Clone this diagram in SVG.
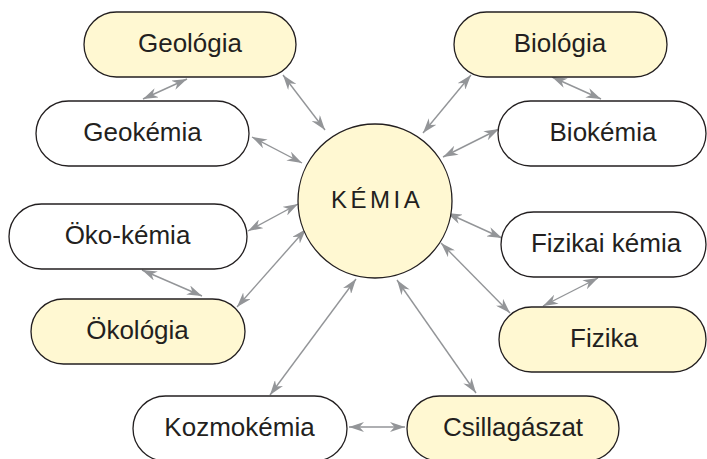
<svg xmlns="http://www.w3.org/2000/svg" width="707" height="459" viewBox="0 0 707 459">
<style>
.n rect, .n circle { stroke:#231f20; stroke-width:1.3; }
.y { fill:#fff8d2; }
.w { fill:#ffffff; }
text { font-family:"Liberation Sans", Arial, Helvetica, sans-serif; font-size:26px; fill:#231f20; text-anchor:middle; }
text.big { font-size:24px; letter-spacing:3.5px; text-anchor:start; }
.c line { stroke:#939598; stroke-width:1.4; marker-start:url(#ah); marker-end:url(#ah); }
</style>
<defs>
<marker id="ah" viewBox="0 0 15 10" refX="15" refY="5" markerWidth="15" markerHeight="10" markerUnits="userSpaceOnUse" orient="auto-start-reverse">
<path d="M0,0 L15,5 L0,10 L4.5,5 Z" fill="#939598"/>
</marker>
</defs>
<rect width="707" height="459" fill="#ffffff"/>
<g class="c" id="connectors">
<line x1="143" y1="99" x2="187" y2="79"/>
<line x1="283" y1="75" x2="325" y2="130"/>
<line x1="252" y1="137" x2="302" y2="163"/>
<line x1="248" y1="231" x2="298" y2="204"/>
<line x1="237" y1="307" x2="306" y2="229"/>
<line x1="142" y1="270" x2="202" y2="296"/>
<line x1="270" y1="395" x2="356" y2="279"/>
<line x1="397" y1="280" x2="476" y2="393"/>
<line x1="349" y1="427" x2="405" y2="427"/>
<line x1="441" y1="243" x2="510" y2="313"/>
<line x1="447" y1="213" x2="502" y2="238"/>
<line x1="598" y1="278" x2="543" y2="306"/>
<line x1="471" y1="75" x2="423" y2="133"/>
<line x1="499" y1="129" x2="443" y2="157"/>
<line x1="552" y1="77" x2="601" y2="99"/>
</g>
<g class="n" id="kemia"><circle class="y" cx="375" cy="201" r="77"/><text class="big" x="331" y="208">KÉMIA</text></g>
<g class="n" id="geologia"><rect class="y" x="84" y="12" width="212" height="65" rx="32.5"/><text x="190" y="51.5">Geológia</text></g>
<g class="n" id="geokemia"><rect class="w" x="36" y="101" width="213" height="65" rx="32.5"/><text x="142.5" y="140.5">Geokémia</text></g>
<g class="n" id="okokemia"><rect class="w" x="9" y="204" width="238" height="65" rx="32.5"/><text x="127.5" y="243.5">Öko-kémia</text></g>
<g class="n" id="okologia"><rect class="y" x="31" y="299" width="214" height="65" rx="32.5"/><text x="137.5" y="338.5">Ökológia</text></g>
<g class="n" id="kozmokemia"><rect class="w" x="133" y="396" width="214" height="65" rx="32.5"/><text x="239.5" y="435.5">Kozmokémia</text></g>
<g class="n" id="csillagaszat"><rect class="y" x="407" y="396" width="212" height="65" rx="32.5"/><text x="513" y="435.5">Csillagászat</text></g>
<g class="n" id="biologia"><rect class="y" x="454" y="12" width="213" height="65" rx="32.5"/><text x="560" y="51.5">Biológia</text></g>
<g class="n" id="biokemia"><rect class="w" x="498" y="101" width="208" height="65" rx="32.5"/><text x="603" y="140.5">Biokémia</text></g>
<g class="n" id="fizikaikemia"><rect class="w" x="501" y="212" width="205" height="65" rx="32.5"/><text x="606" y="251.5">Fizikai kémia</text></g>
<g class="n" id="fizika"><rect class="y" x="499" y="307" width="207" height="65" rx="32.5"/><text x="604" y="346.5">Fizika</text></g>
</svg>
